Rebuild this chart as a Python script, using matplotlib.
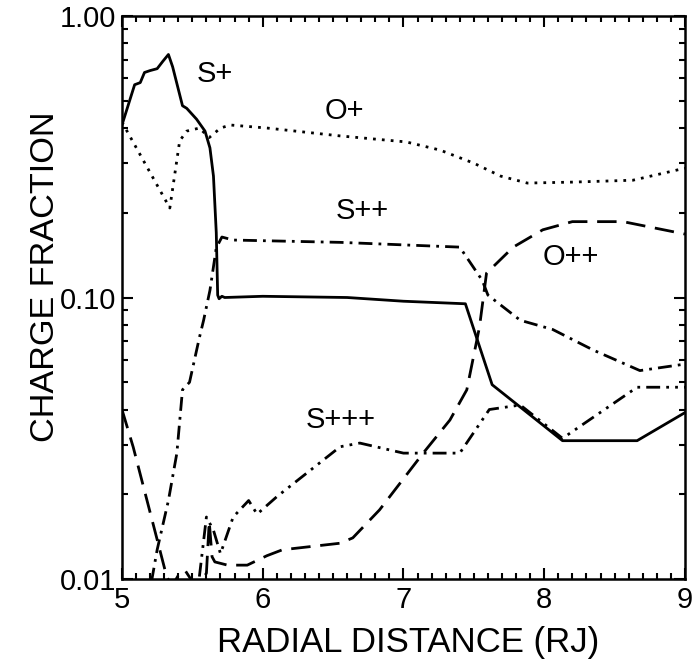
import matplotlib.pyplot as plt
from matplotlib.ticker import FixedLocator, FixedFormatter, LogLocator, MultipleLocator, NullFormatter

plt.rcParams["font.family"] = ["Liberation Sans", "DejaVu Sans"]

# charge fraction of each ion species vs radial distance (RJ)
s1_r = [5.0, 5.09, 5.13, 5.16, 5.20, 5.25, 5.29, 5.33, 5.36, 5.43, 5.46, 5.53, 5.59, 5.625,
        5.65, 5.67, 5.68, 5.69, 5.71, 5.73, 6.0, 6.6, 7.0, 7.44, 7.63, 8.13, 8.66, 9.0]
s1_f = [0.41, 0.57, 0.58, 0.63, 0.64, 0.65, 0.69, 0.73, 0.66, 0.48, 0.47, 0.43, 0.39, 0.34,
        0.27, 0.17, 0.102, 0.099, 0.101, 0.100, 0.101, 0.100, 0.097, 0.095, 0.049, 0.031, 0.031, 0.039]

o1_r = [5.0, 5.34, 5.41, 5.46, 5.55, 5.62, 5.70, 5.77, 6.03, 6.55, 7.02, 7.26, 7.5, 7.69,
        7.88, 8.2, 8.63, 9.0]
o1_f = [0.42, 0.208, 0.36, 0.39, 0.40, 0.37, 0.40, 0.41, 0.40, 0.375, 0.357, 0.334, 0.30, 0.27,
        0.255, 0.257, 0.261, 0.288]

s2_r = [5.21, 5.25, 5.33, 5.39, 5.43, 5.48, 5.55, 5.58, 5.625, 5.67, 5.71, 5.79, 6.55, 7.40,
        7.56, 7.6, 7.83, 8.06, 8.35, 8.68, 9.0]
s2_f = [0.0098, 0.0127, 0.019, 0.028, 0.047, 0.050, 0.072, 0.083, 0.106, 0.15, 0.164, 0.16, 0.157, 0.151,
        0.115, 0.102, 0.083, 0.077, 0.065, 0.055, 0.058]

s3_r = [5.55, 5.60, 5.65, 5.70, 5.79, 5.90, 5.96, 6.10, 6.55, 6.69, 7.0, 7.40, 7.61, 7.83,
        8.13, 8.66, 9.0]
s3_f = [0.0102, 0.0166, 0.0149, 0.0123, 0.0166, 0.019, 0.017, 0.0196, 0.0295, 0.0304, 0.028, 0.028, 0.040, 0.0415,
        0.0316, 0.048, 0.048]

o2_r = [5.0, 5.08, 5.25, 5.32, 5.36, 5.40, 5.45, 5.50, 5.57, 5.60, 5.62, 5.64, 5.66, 5.75,
        5.89, 6.03, 6.14, 6.55, 6.64, 6.83, 7.14, 7.33, 7.45, 7.54, 7.59, 7.78, 7.99, 8.2, 8.56, 9.0]
o2_f = [0.040, 0.0294, 0.0138, 0.0101, 0.0095, 0.0103, 0.0107, 0.0098, 0.0098, 0.0105, 0.016, 0.012, 0.0115, 0.0112,
        0.0112, 0.0121, 0.0127, 0.0134, 0.0140, 0.0176, 0.028, 0.0367, 0.047, 0.0785, 0.122, 0.151, 0.174, 0.186, 0.186, 0.168]

labels = ["S+", "O+", "S++", "O++", "S+++"]
label_r = [5.66, 6.58, 6.705, 8.19, 6.556]
label_f = [0.62, 0.46, 0.203, 0.139, 0.0367]

x_ticks = [5, 6, 7, 8, 9]
y_ticks = [0.01, 0.1, 1.0]
y_tick_labels = ["0.01", "0.10", "1.00"]

fig = plt.figure(figsize=(6.93, 6.59), dpi=100)
ax = fig.add_axes([0.176, 0.1214, 0.8124, 0.8543])

lw = 2.0
ax.plot(s1_r, s1_f, color="black", lw=lw, linestyle="-")
ax.plot(o1_r, o1_f, color="black", lw=lw, linestyle=(0, (1, 2.2)))
ax.plot(s2_r, s2_f, color="black", lw=lw, linestyle=(0, (5, 2.2, 1, 2.2)))
ax.plot(s3_r, s3_f, color="black", lw=lw, linestyle=(0, (5, 2.2, 1, 2.2, 1, 2.2)))
ax.plot(o2_r, o2_f, color="black", lw=lw, linestyle=(0, (7, 3.5)))

for txt, r, f in zip(labels, label_r, label_f):
    ax.text(r, f, txt, fontsize=21, ha="center", va="center")

ax.set_xscale("linear")
ax.set_yscale("log")
ax.set_xlim(5, 9)
ax.set_ylim(0.01, 1.0)

ax.xaxis.set_major_locator(FixedLocator(x_ticks))
ax.xaxis.set_minor_locator(MultipleLocator(0.1))
ax.yaxis.set_major_locator(FixedLocator(y_ticks))
ax.yaxis.set_major_formatter(FixedFormatter(y_tick_labels))
ax.yaxis.set_minor_locator(LogLocator(base=10, subs=range(2, 10)))
ax.yaxis.set_minor_formatter(NullFormatter())

ax.tick_params(which="both", direction="in", top=True, right=True, width=1.5, labelsize=21)
ax.tick_params(axis="x", which="major", pad=5)
ax.tick_params(axis="y", which="major", pad=4)
ax.tick_params(which="major", length=8)
ax.tick_params(which="minor", length=4)
for sp in ax.spines.values():
    sp.set_linewidth(1.8)

ax.set_xlabel("RADIAL DISTANCE (RJ)", fontsize=25)
ax.set_ylabel("CHARGE FRACTION", fontsize=24.7)
ax.xaxis.set_label_coords(0.508, -0.083)
ax.yaxis.set_label_coords(-0.108, 0.536)

fig.savefig("out.png", dpi=100)
